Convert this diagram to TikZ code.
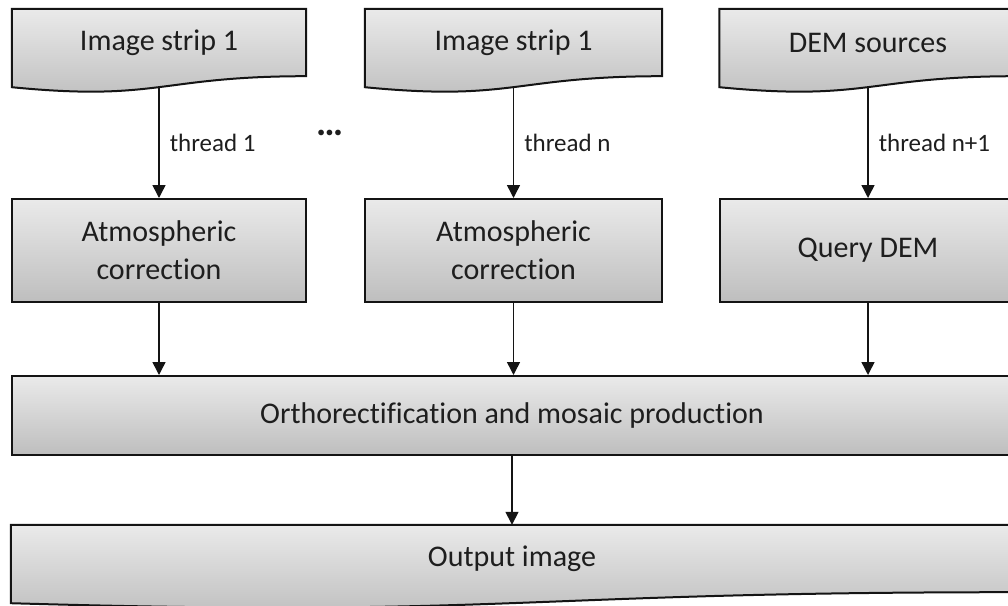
\documentclass[tikz,border=0pt]{standalone}
\usepackage{fontspec}
\setmainfont[Ligatures=NoCommon]{Carlito}
\usetikzlibrary{arrows.meta,calc,backgrounds}

\definecolor{boxtop}{RGB}{234,234,234}
\definecolor{boxbot}{RGB}{190,190,190}
\definecolor{boxline}{RGB}{20,20,20}
\definecolor{txt}{RGB}{30,30,30}

\tikzset{
  boxfill/.style={top color=boxtop, bottom color=boxbot, draw=boxline, line width=2pt},
  procbox/.style={rectangle, boxfill, text=txt, font=\fontsize{30}{38}\selectfont,
    align=center, inner sep=0pt},
  docbox/.style={rectangle, text=txt, font=\fontsize{30}{38}\selectfont,
    align=center, inner sep=0pt},
  arr/.style={-{Triangle[width=13pt,length=13pt]}, line width=1.5pt, draw=boxline},
  lbl/.style={font=\fontsize{25}{30}\selectfont, text=txt, anchor=west, xshift=10pt, inner sep=0pt}
}

% document symbol: straight top and sides, wavy bottom edge below the node
\newcommand\docshape[1]{%
  \draw[boxfill] (#1.north west) -- (#1.north east) -- (#1.south east)
    .. controls (#1.south) and ([yshift=-25.5pt]#1.south)
    .. ([yshift=-11pt]#1.south west) -- cycle;}

\begin{document}
\begin{tikzpicture}[x=1pt,y=-1pt]
\useasboundingbox (0,0) rectangle (1008,605);

% inputs
\node[docbox, minimum width=294, minimum height=67] (s1) at (159,42.5) {Image strip 1};
\node[docbox, minimum width=297, minimum height=67] (s2) at (513.5,42.5) {Image strip 1};
\node[docbox, minimum width=297, minimum height=67] (s3) at (868,42.5) {DEM sources};

% per-thread processing
\node[procbox, minimum width=294, minimum height=103] (a1) at (159,250.5) {Atmospheric\\correction};
\node[procbox, minimum width=297, minimum height=103] (a2) at (513.5,250.5) {Atmospheric\\correction};
\node[procbox, minimum width=297, minimum height=103] (q) at (868,250.5) {Query DEM};

% merge and output
\node[procbox, minimum width=1000, minimum height=79] (ortho) at (512,415.5) {Orthorectification and mosaic production};
\node[docbox, minimum width=1002, minimum height=67] (out) at (512,558.5) {Output image};

\begin{scope}[on background layer]
  \docshape{s1}
  \docshape{s2}
  \docshape{s3}
  \docshape{out}
\end{scope}

% lowest point of each wavy edge under the node centre
\coordinate (s1w) at ([yshift=-10.9pt]s1.south);
\coordinate (s2w) at ([yshift=-10.9pt]s2.south);
\coordinate (s3w) at ([yshift=-10.9pt]s3.south);

\node[text=txt, font=\fontsize{38}{38}\bfseries, anchor=base, inner sep=0pt] (dots) at (330.5,135) {…};

\draw[arr] (s1w) -- node[lbl] {thread 1} (a1.north);
\draw[arr] (s2w) -- node[lbl] {thread n} (a2.north);
\draw[arr] (s3w) -- node[lbl] {thread n+1} (q.north);

\draw[arr] (a1.south) -- (a1.south |- ortho.north);
\draw[arr] (a2.south) -- (a2.south |- ortho.north);
\draw[arr] (q.south) -- (q.south |- ortho.north);

\draw[arr] (ortho.south) -- (out.north);
\end{tikzpicture}
\end{document}
